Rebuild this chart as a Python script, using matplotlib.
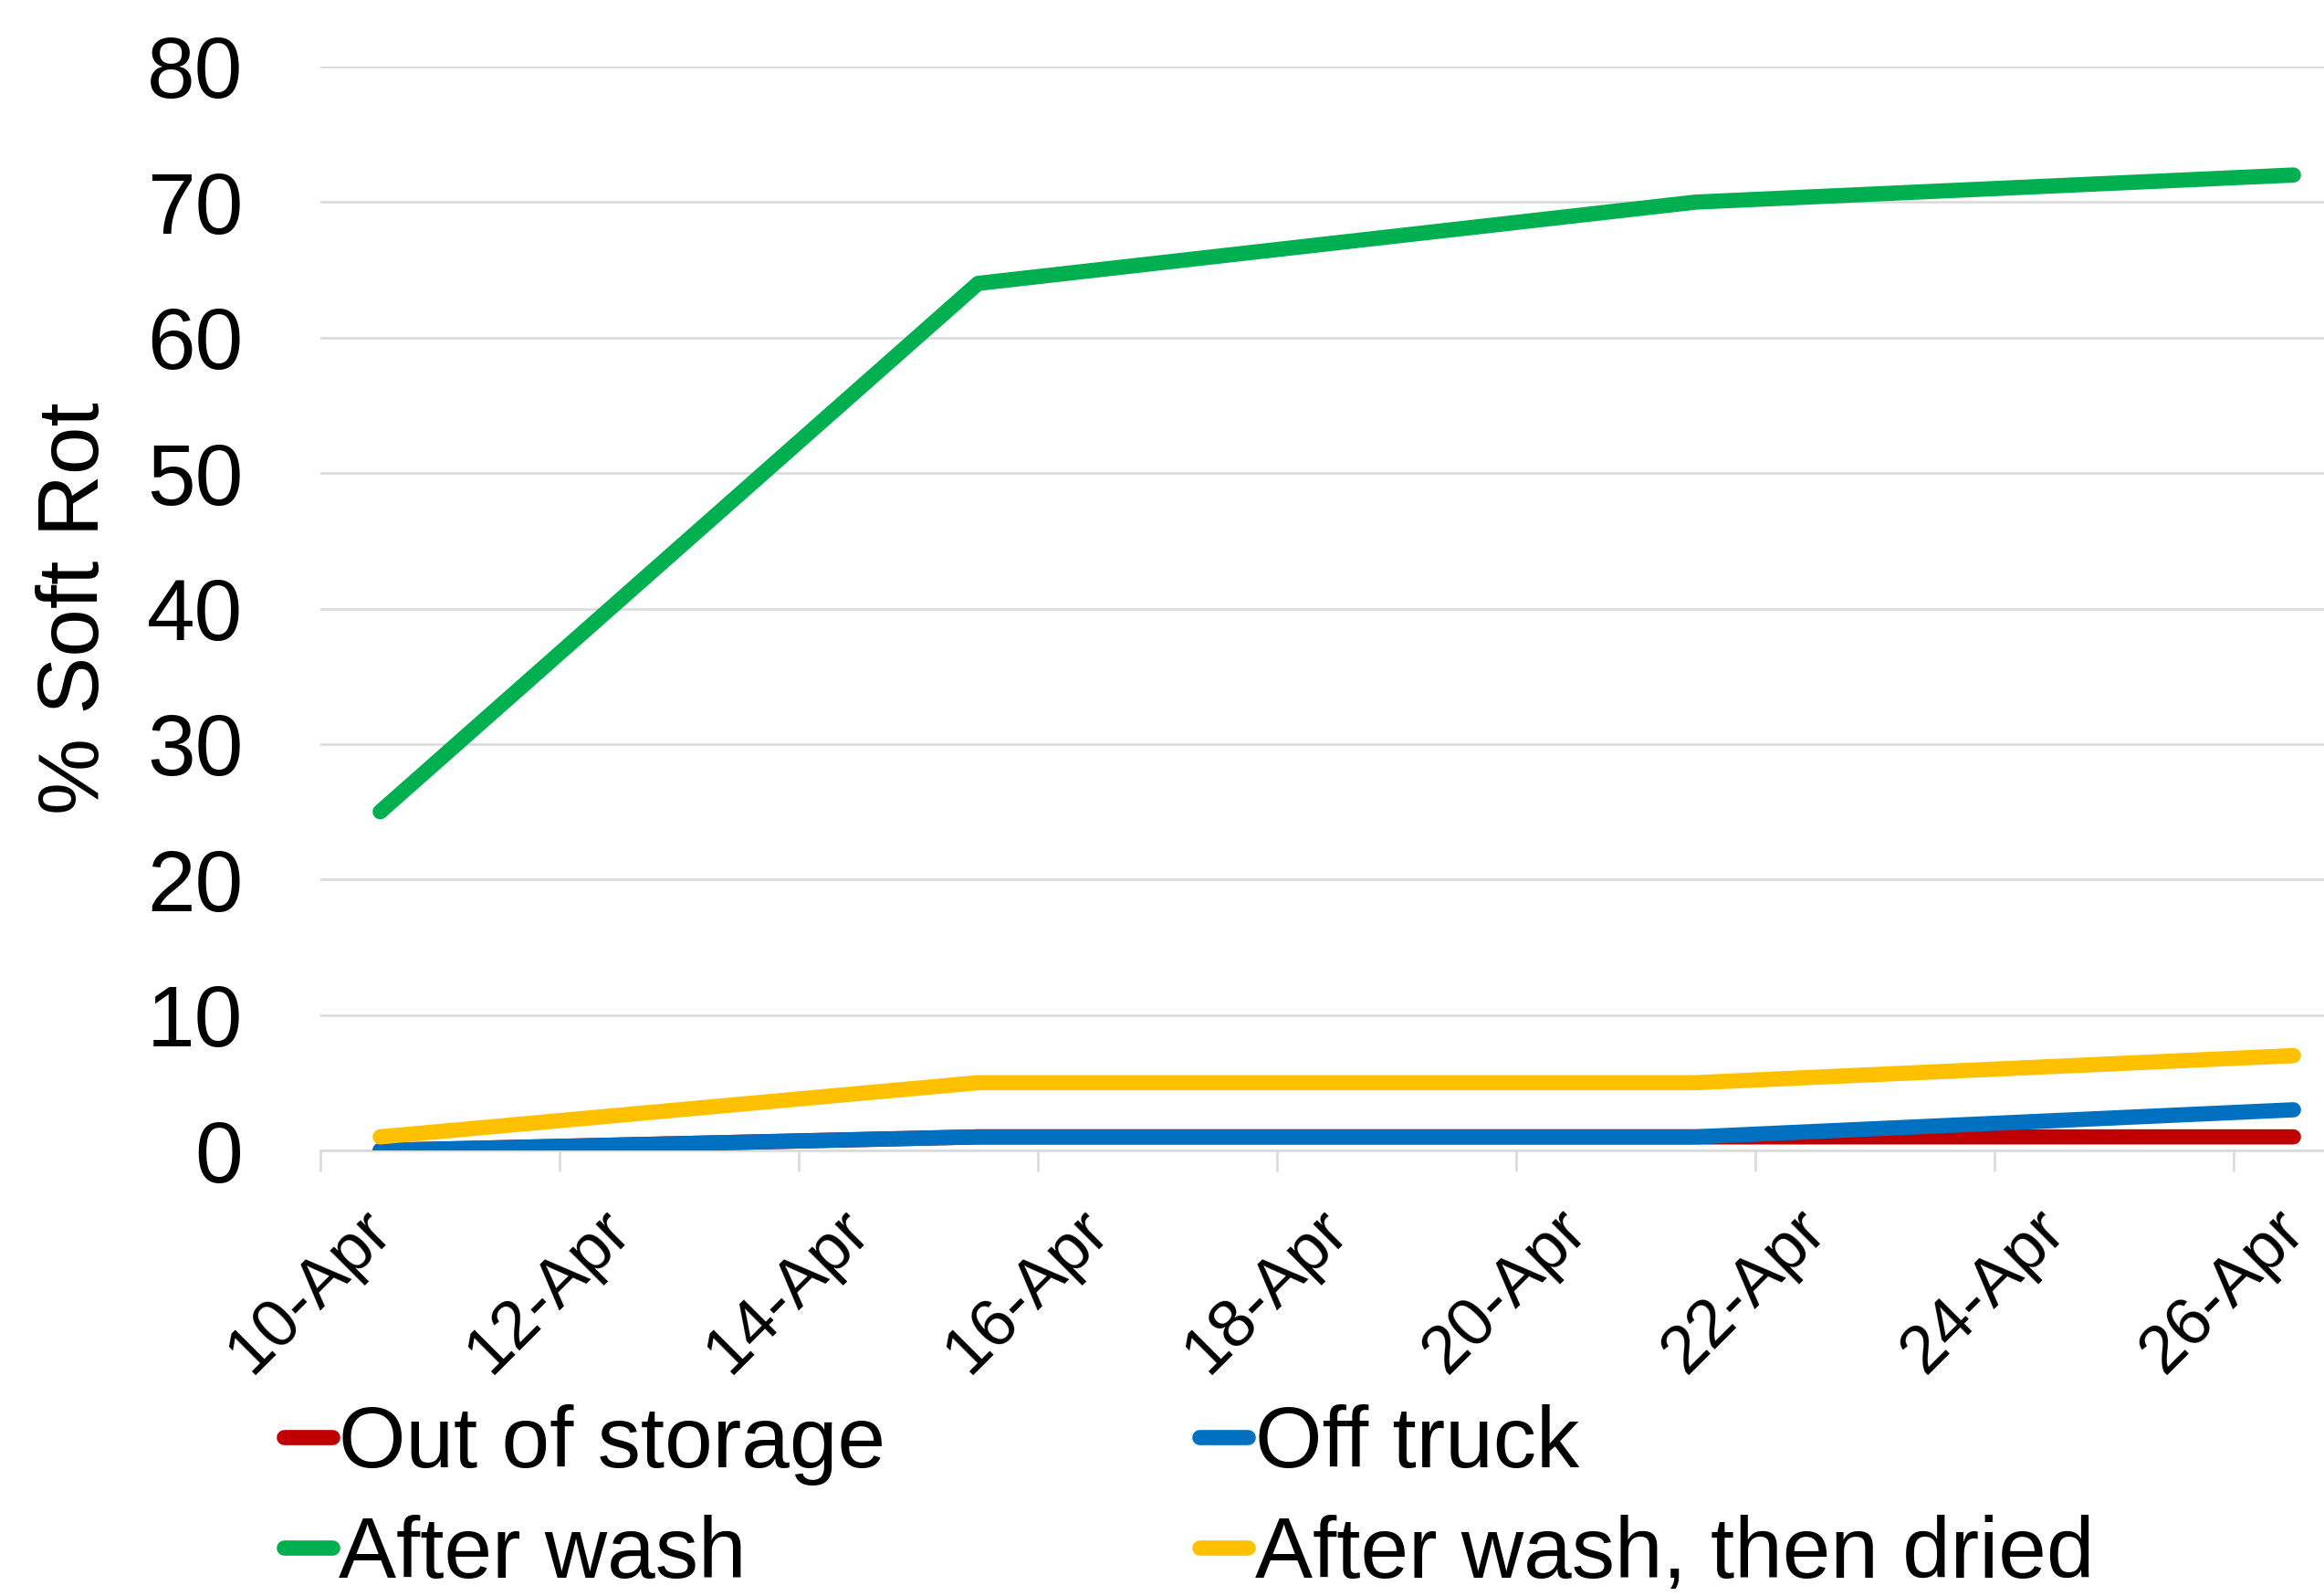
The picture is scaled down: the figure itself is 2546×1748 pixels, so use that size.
import matplotlib
matplotlib.use("Agg")
import matplotlib.pyplot as plt
import matplotlib.dates as mdates
import matplotlib.transforms as mtransforms
import pandas as pd

# ---- data ----
dates = ["2017-04-10", "2017-04-15", "2017-04-21", "2017-04-26"]
out_of_storage = [0, 1, 1, 1]
off_truck = [0, 1, 1, 3]
after_wash = [25, 64, 70, 72]
after_wash_dried = [1, 5, 5, 7]
series_names = ["Out of storage", "Off truck", "After wash", "After wash, then dried"]
y_ticks = [0, 10, 20, 30, 40, 50, 60, 70, 80]

colors = ["#C00000", "#0070C0", "#00B050", "#FFC000"]

plt.rcParams["font.family"] = ["Liberation Sans", "DejaVu Sans"]

W, H = 2546, 1748
fig = plt.figure(figsize=(W / 100, H / 100), dpi=100)
left_px, right_px, top_px, bottom_px = 351, 351 + 17 * 131, 73, 1260
ax = fig.add_axes([left_px / W, 1 - bottom_px / H,
                   (right_px - left_px) / W, (bottom_px - top_px) / H])

# Excel date axis "between tick marks": points centred in each day
x = pd.to_datetime(dates) + pd.Timedelta(hours=12)

lines = {}
for name, vals, c in zip(series_names,
                         [out_of_storage, off_truck, after_wash, after_wash_dried],
                         colors):
    ln, = ax.plot(x, vals, color=c, lw=12, solid_capstyle="round",
                  solid_joinstyle="round", label=name, zorder=3)
    lines[name] = ln

ax.set_ylim(0, 80)
ax.set_yticks(y_ticks)
ax.set_xlim(pd.Timestamp("2017-04-10"), pd.Timestamp("2017-04-27"))
ax.xaxis.set_major_locator(mdates.DayLocator(bymonthday=range(10, 27, 2)))
ax.xaxis.set_major_formatter(mdates.DateFormatter("%d-%b"))

ax.grid(axis="y", color="#D9D9D9", lw=1.8, zorder=0)
for s in ["top", "right", "left"]:
    ax.spines[s].set_visible(False)
ax.spines["bottom"].set_color("#D9D9D9")
ax.spines["bottom"].set_linewidth(1.8)
ax.spines["bottom"].set_zorder(1)

fs = 68
ax.tick_params(axis="y", length=0, pad=61, labelsize=fs)
ax.tick_params(axis="x", length=16.5, width=1.8, color="#D9D9D9",
               pad=21, labelsize=53)
shift = mtransforms.ScaledTranslation(-12 / 100, 0, fig.dpi_scale_trans)
for lbl in ax.get_xticklabels():
    lbl.set_rotation(45)
    lbl.set_ha("center")
    lbl.set_va("top")
    lbl.set_transform(lbl.get_transform() + shift)

fig.text(84 / W, 1 - 666 / H, "% Soft Rot", rotation=90, ha="center",
         va="center", fontsize=fs)

order = ["Out of storage", "After wash", "Off truck", "After wash, then dried"]
leg = fig.legend([lines[n] for n in order], order, ncols=2,
                 loc="upper left", bbox_to_anchor=(311 / W, 1 - 1538 / H),
                 frameon=False, fontsize=fs, borderpad=0, borderaxespad=0,
                 handlelength=0.56, handletextpad=0.08, columnspacing=3.64,
                 labelspacing=0.34)

fig.savefig("out.png", dpi=100, facecolor="white")
